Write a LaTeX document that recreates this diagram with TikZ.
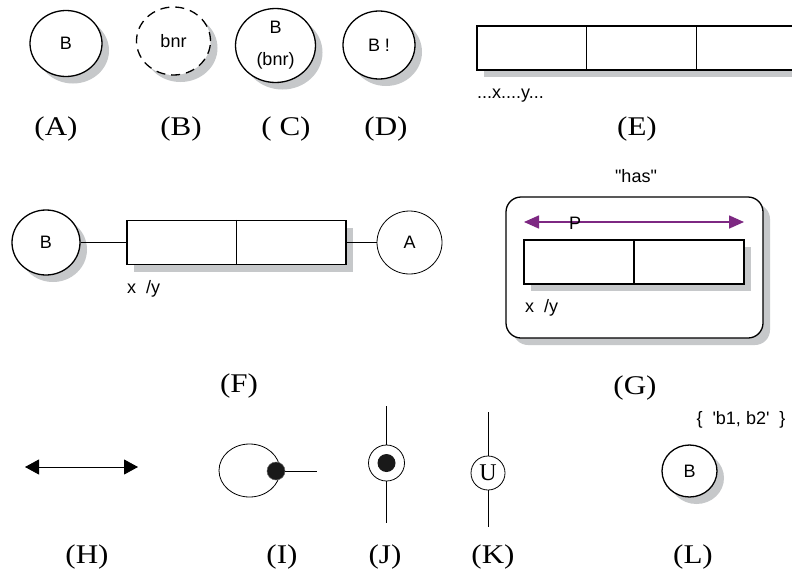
\documentclass[tikz,border=0pt]{standalone}
\usepackage{fontspec}
\setmainfont{Liberation Serif}
\setsansfont[Ligatures=TeXOff]{Liberation Sans}
\newfontfamily\lblfont[FakeStretch=1.15]{Liberation Serif}
\usetikzlibrary{shapes.geometric,shadows,arrows.meta,calc}
\definecolor{shade}{RGB}{198,200,202}
\definecolor{purp}{RGB}{125,40,130}
\tikzset{
 sh/.style={drop shadow={shadow xshift=7pt, shadow yshift=-7pt, fill=shade, opacity=1}},
 bub/.style={ellipse, draw, line width=1.3pt, fill=white, inner sep=0pt, font=\sffamily\fontsize{18}{21}\selectfont},
 thinbub/.style={ellipse, draw, line width=0.8pt, fill=white, inner sep=0pt},
 thinline/.style={line width=0.8pt},
 cellbox/.style={rectangle, draw, line width=1.3pt, fill=white, inner sep=0pt},
 lbl/.style={font=\lblfont\fontsize{27}{30}\selectfont, inner sep=0pt},
 txt/.style={font=\sffamily\fontsize{18}{21}\selectfont, inner sep=0pt},
 divider/.style={line width=1.3pt},
}
\begin{document}
\begin{tikzpicture}[x=1pt,y=-1pt]
\useasboundingbox (0,0) rectangle (792,576);
\fill[white] (0,0) rectangle (792,576);
\clip (0,0) rectangle (792,576);

% Row 1
\node[bub, sh, minimum width=72pt, minimum height=66pt] (ca) at (66,43.5) {B};
\node[bub, sh, dash pattern=on 9pt off 6pt, minimum width=74pt, minimum height=68pt] (cb) at (173.5,41) {bnr};
\node[bub, sh, minimum width=80pt, minimum height=74pt, align=center] (cc) at (275.5,45.5) {B\\[11pt](bnr)};
\node[bub, sh, minimum width=72pt, minimum height=68pt] (cd) at (379,45) {B !};
\node[cellbox, sh, minimum width=329pt, minimum height=44pt] (e) at (641.5,48) {};
\draw[divider] ($(e.north west)!1/3!(e.north east)$) -- ($(e.south west)!1/3!(e.south east)$);
\draw[divider] ($(e.north west)!2/3!(e.north east)$) -- ($(e.south west)!2/3!(e.south east)$);
\node[txt, anchor=west] (ext) at (477,96) {...x....y...};

\node[lbl] (la) at (56,129) {(A)};
\node[lbl] (lb) at (181,129) {(B)};
\node[lbl] (lc) at (286,129) {( C)};
\node[lbl] (ld) at (386,129) {(D)};
\node[lbl] (le) at (637,129) {(E)};

% F
\node[bub, sh, minimum width=68pt, minimum height=65pt] (fb) at (46,242.5) {B};
\node[cellbox, sh, minimum width=219pt, minimum height=44pt] (fr) at (236.5,242.5) {};
\draw[divider] (fr.north) -- (fr.south);
\node[thinbub, fill=none, minimum width=65pt, minimum height=63pt, font=\sffamily\fontsize{18}{21}\selectfont] (fa) at (409.5,242.5) {A};
\draw[thinline] (fb.east) -- (fr.west);
\draw[thinline] (fr.east) -- (fa.west);
\node[txt, anchor=west] (fxy) at (127,289) {x \ /y};
\node[lbl] (lf) at (239,386) {(F)};

% G
\node[txt] (has) at (636,176) {"has"};
\node[cellbox, sh, rounded corners=15pt, minimum width=257pt, minimum height=141pt] (gbox) at (634.5,267.5) {};
\node[cellbox, sh, minimum width=220pt, minimum height=44pt] (gin) at (634,262) {};
\draw[divider] (gin.north) -- (gin.south);
\coordinate (gl) at (524,222);
\coordinate (gr) at (744,222);
\draw[purp, line width=1.6pt, {Triangle[length=15pt,width=13pt]}-{Triangle[length=15pt,width=13pt]}] (gl) -- (gr);
\node[txt] (gp) at (575,223) {P};
\node[txt, anchor=west] (gxy) at (525,308) {x \ /y};
\node[lbl] (lg) at (635,388) {(G)};

% H
\coordinate (h1) at (25,467);
\coordinate (h2) at (138,467);
\draw[thinline, {Triangle[length=14pt,width=15pt]}-{Triangle[length=14pt,width=15pt]}] (h1) -- (h2);
\node[lbl] (lh) at (87,557) {(H)};

% I
\node[thinbub, minimum width=61pt, minimum height=53pt] (ie) at (249.5,470.5) {};
\node[circle, fill=black!90, draw=black!60, line width=0.5pt, minimum size=18pt, inner sep=0pt] (idot) at (276,471) {};
\coordinate (iend) at (317,471);
\draw[thinline] (idot.east) -- (iend);
\node[lbl] (li) at (282,557) {(I)};

% J
\node[circle, draw, thinline, fill=white, minimum size=36pt, inner sep=0pt] (jc) at (386.5,463) {};
\node[circle, fill=black!90, minimum size=18pt, inner sep=0pt] (jd) at (386.5,463) {};
\coordinate (jt) at (386.5,406);
\coordinate (jb) at (386.5,523);
\draw[thinline] (jc.north) -- (jt);
\draw[thinline] (jc.south) -- (jb);
\node[lbl] (lj) at (385,557) {(J)};

% K
\node[circle, draw, thinline, fill=white, minimum size=34pt, inner sep=0pt, font=\fontsize{24}{26}\selectfont] (kc) at (488,473) {U};
\coordinate (kt) at (488,412);
\coordinate (kb) at (488,527);
\draw[thinline] (kc.north) -- (kt);
\draw[thinline] (kc.south) -- (kb);
\node[lbl] (lk) at (493,557) {(K)};

% L
\node[txt] (lset) at (741,420) {\{ \ 'b1, b2' \ \}};
\node[bub, sh, minimum width=55pt, minimum height=52pt] (lcirc) at (689.5,471) {B};
\node[lbl] (ll) at (693,557) {(L)};
\end{tikzpicture}
\end{document}
